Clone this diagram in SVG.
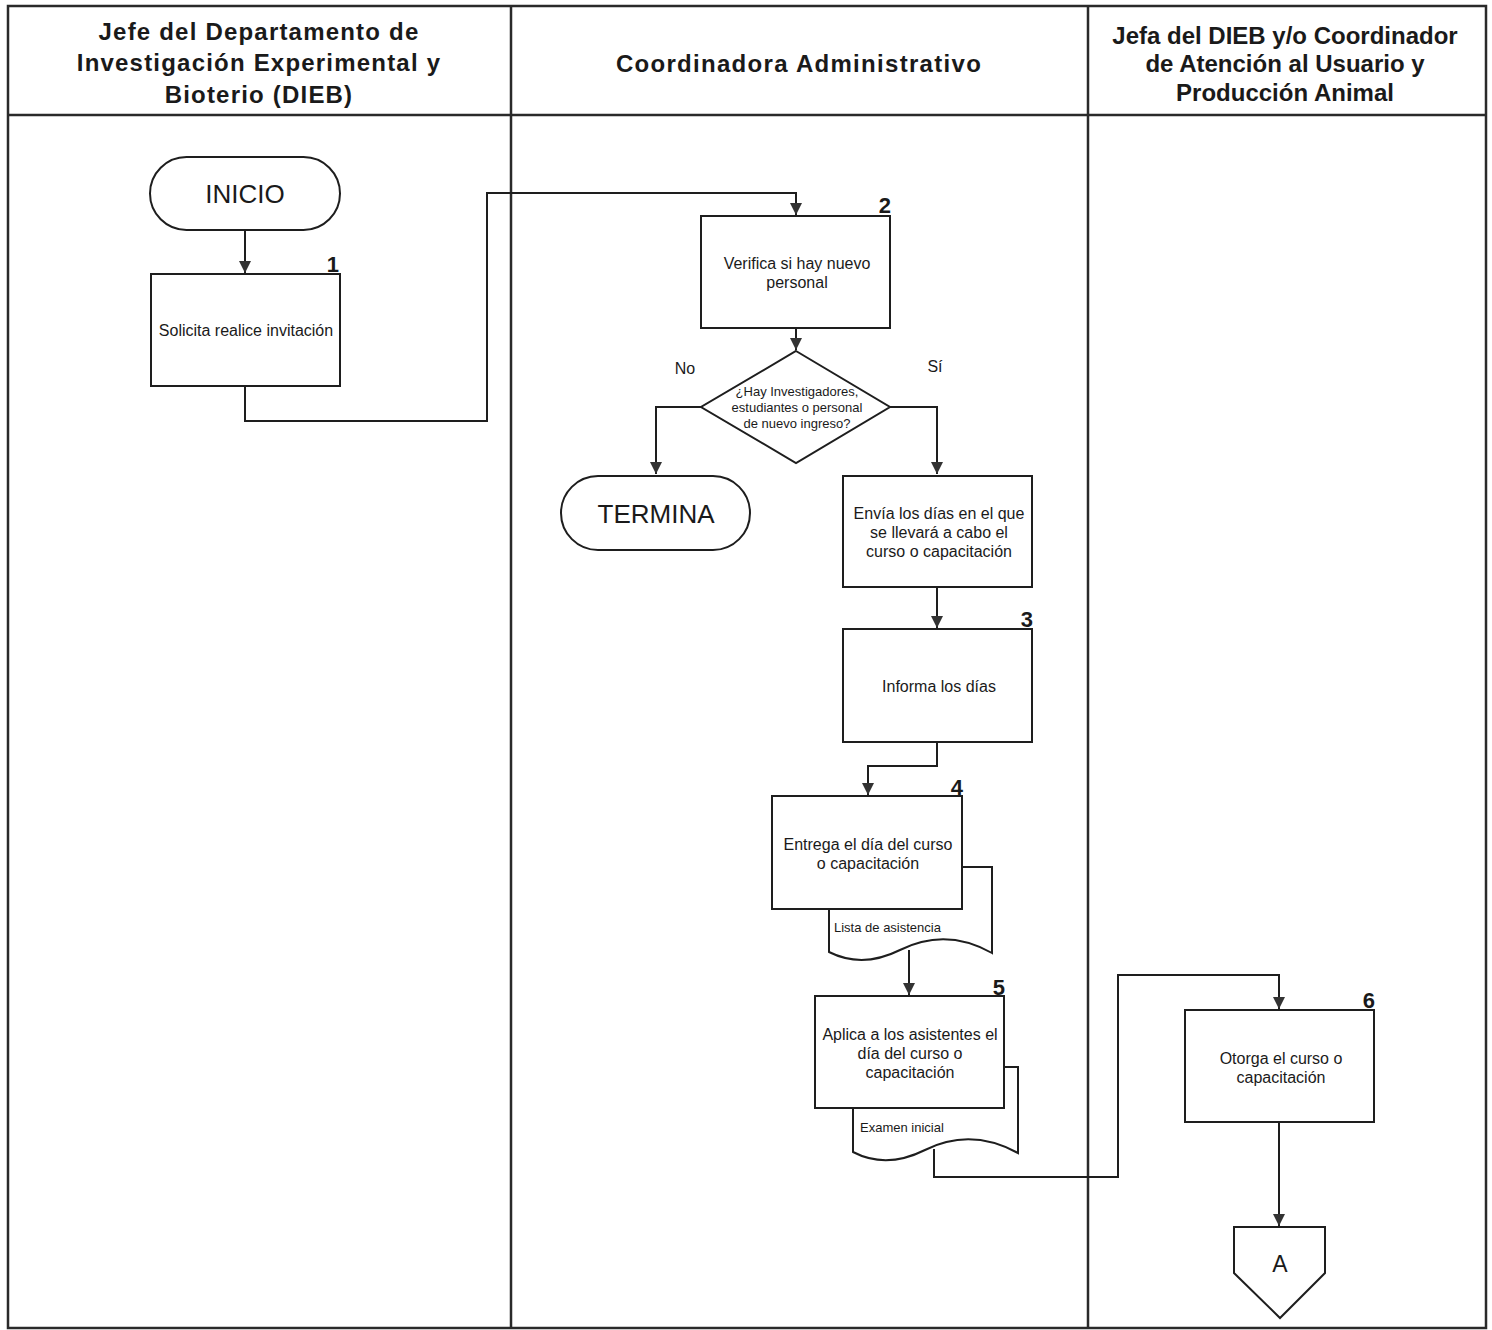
<svg xmlns="http://www.w3.org/2000/svg" width="1492" height="1330" viewBox="0 0 1492 1330">
<defs>
<style>
.frame{fill:none;stroke:#2a2a2a;stroke-width:2.5}
.sh{fill:#fff;stroke:#1e1e1e;stroke-width:2}
.cn{fill:none;stroke:#1e1e1e;stroke-width:2}
.hd{font-family:"Liberation Sans",Arial,sans-serif;font-weight:bold;font-size:24px;fill:#1a1a1a;text-anchor:middle}
.t{font-family:"Liberation Sans",Arial,sans-serif;font-size:16px;fill:#1a1a1a;text-anchor:middle}
.s{font-family:"Liberation Sans",Arial,sans-serif;font-size:13px;fill:#1a1a1a;text-anchor:middle}
.d{font-family:"Liberation Sans",Arial,sans-serif;font-size:13px;fill:#1a1a1a}
.n{font-family:"Liberation Sans",Arial,sans-serif;font-weight:bold;font-size:22px;fill:#1a1a1a;text-anchor:end}
.big{font-family:"Liberation Sans",Arial,sans-serif;font-size:26px;fill:#1a1a1a;text-anchor:middle}
</style>
<marker id="ar" markerWidth="14" markerHeight="14" refX="12" refY="6" orient="auto" markerUnits="userSpaceOnUse">
<path d="M0,0 L12,6 L0,12 Z" fill="#333"/>
</marker>
</defs>
<rect width="1492" height="1330" fill="#fff"/>
<g id="lanes">
<rect class="frame" x="8" y="6" width="1478" height="1322"/>
<line class="frame" x1="8" y1="115" x2="1486" y2="115"/>
<line class="frame" x1="511" y1="6" x2="511" y2="1328"/>
<line class="frame" x1="1088" y1="6" x2="1088" y2="1328"/>
<text class="hd" x="259" y="40" letter-spacing="1.2">Jefe del Departamento de</text>
<text class="hd" x="259" y="71" letter-spacing="1.2">Investigación Experimental y</text>
<text class="hd" x="259" y="103" letter-spacing="1.2">Bioterio (DIEB)</text>
<text class="hd" x="799" y="72" letter-spacing="1.3">Coordinadora Administrativo</text>
<text class="hd" x="1285" y="44">Jefa del DIEB y/o Coordinador</text>
<text class="hd" x="1285" y="72">de Atención al Usuario y</text>
<text class="hd" x="1285" y="101">Producción Animal</text>
</g>
<g id="connectors">
<line class="cn" x1="245" y1="230" x2="245" y2="273" marker-end="url(#ar)"/>
<polyline class="cn" points="245,386 245,421 487,421 487,193 796,193 796,215" marker-end="url(#ar)"/>
<line class="cn" x1="796" y1="328" x2="796" y2="350" marker-end="url(#ar)"/>
<polyline class="cn" points="701,407 656,407 656,474" marker-end="url(#ar)"/>
<polyline class="cn" points="890,407 937,407 937,474" marker-end="url(#ar)"/>
<line class="cn" x1="937" y1="587" x2="937" y2="628" marker-end="url(#ar)"/>
<polyline class="cn" points="937,742 937,766 868,766 868,795" marker-end="url(#ar)"/>
<line class="cn" x1="909" y1="950" x2="909" y2="995" marker-end="url(#ar)"/>
<polyline class="cn" points="934,1149 934,1177 1118,1177 1118,975 1279,975 1279,1009" marker-end="url(#ar)"/>
<line class="cn" x1="1279" y1="1122" x2="1279" y2="1226" marker-end="url(#ar)"/>
<text class="t" x="685" y="374">No</text>
<text class="t" x="935" y="372">Sí</text>
</g>
<g id="inicio">
<rect class="sh" x="150" y="157" width="190" height="73" rx="36.5"/>
<text class="big" x="245" y="203">INICIO</text>
</g>
<g id="n1">
<rect class="sh" x="151" y="274" width="189" height="112"/>
<text class="t" x="246" y="336">Solicita realice invitación</text>
<text class="n" x="339" y="272">1</text>
</g>
<g id="n2">
<rect class="sh" x="701" y="216" width="189" height="112"/>
<text class="t" x="797" y="269">Verifica si hay nuevo</text>
<text class="t" x="797" y="288">personal</text>
<text class="n" x="891" y="213">2</text>
</g>
<g id="decision">
<polygon class="sh" points="796,351 890,407 796,463 701,407"/>
<text class="s" x="797" y="396">¿Hay Investigadores,</text>
<text class="s" x="797" y="412">estudiantes o personal</text>
<text class="s" x="797" y="428">de nuevo ingreso?</text>
</g>
<g id="termina">
<rect class="sh" x="561" y="476" width="189" height="74" rx="37"/>
<text class="big" x="656" y="523">TERMINA</text>
</g>
<g id="envia">
<rect class="sh" x="843" y="476" width="189" height="111"/>
<text class="t" x="939" y="519">Envía los días en el que</text>
<text class="t" x="939" y="538">se llevará a cabo el</text>
<text class="t" x="939" y="557">curso o capacitación</text>
</g>
<g id="n3">
<rect class="sh" x="843" y="629" width="189" height="113"/>
<text class="t" x="939" y="692">Informa los días</text>
<text class="n" x="1033" y="627">3</text>
</g>
<g id="n4">
<path class="sh" d="M829,867 L992,867 L992,953 C960,935 930,935 900,950 C880,960 855,965 829,952 Z"/>
<text class="d" x="834" y="932">Lista de asistencia</text>
<rect class="sh" x="772" y="796" width="190" height="113"/>
<text class="t" x="868" y="850">Entrega el día del curso</text>
<text class="t" x="868" y="869">o capacitación</text>
<text class="n" x="963" y="795">4</text>
</g>
<g id="n5">
<path class="sh" d="M853,1067 L1018,1067 L1018,1153 C985,1135 955,1135 925,1150 C905,1160 880,1166 853,1152 Z"/>
<text class="d" x="860" y="1132">Examen inicial</text>
<rect class="sh" x="815" y="996" width="189" height="112"/>
<text class="t" x="910" y="1040">Aplica a los asistentes el</text>
<text class="t" x="910" y="1059">día del curso o</text>
<text class="t" x="910" y="1078">capacitación</text>
<text class="n" x="1005" y="995">5</text>
</g>
<g id="n6">
<rect class="sh" x="1185" y="1010" width="189" height="112"/>
<text class="t" x="1281" y="1064">Otorga el curso o</text>
<text class="t" x="1281" y="1083">capacitación</text>
<text class="n" x="1375" y="1008">6</text>
</g>
<g id="connA">
<polygon class="sh" points="1234,1227 1325,1227 1325,1273 1280,1318 1234,1273"/>
<text class="big" x="1280" y="1272" style="font-size:23px">A</text>
</g>
</svg>
